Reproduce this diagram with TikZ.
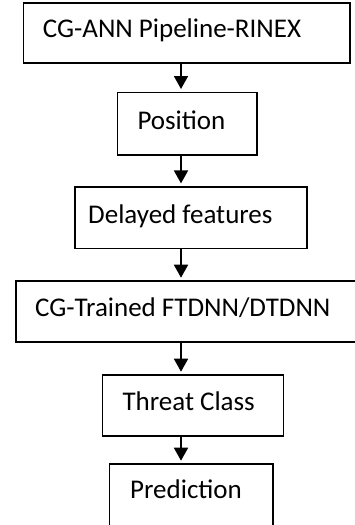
\documentclass[tikz,border=0pt]{standalone}
\usepackage{fontspec}
\setmainfont{Carlito}
\usetikzlibrary{arrows.meta}
\begin{document}
\begin{tikzpicture}[x=1pt,y=1pt,
  box/.style={draw=black, line width=1.6pt, rectangle, inner sep=0pt},
  txt/.style={inner sep=0pt, anchor=base west, font=\fontsize{27}{32}\selectfont},
  arr/.style={line width=1.8pt, -{Triangle[width=14pt,length=13pt]}, shorten >=2.5pt}]
\useasboundingbox (0,0) rectangle (355,-525);
\clip (0,0) rectangle (355,-525);
\coordinate (ax) at (181,0);
\node[box, minimum width=326.7pt, minimum height=60.3pt] (b1) at (186.65,-32.85) {};
\node[box, minimum width=139.4pt, minimum height=62.7pt] (b2) at (187,-123.65) {};
\node[box, minimum width=231.7pt, minimum height=61.6pt] (b3) at (190.85,-217.5) {};
\node[box, minimum width=340.3pt, minimum height=60.7pt] (b4) at (185.85,-311.35) {};
\node[box, minimum width=181pt, minimum height=60.7pt] (b5) at (192.8,-405.35) {};
\node[box, minimum width=163.4pt, minimum height=62pt] (b6) at (191,-495) {};
\node[txt] (t1) at (42.7,-37.7) {CG-ANN Pipeline-RINEX};
\node[txt] (t2) at (137.3,-129.3) {Position};
\node[txt] (t3) at (88,-223.3) {Delayed features};
\node[txt] (t4) at (35,-316.7) {CG-Trained FTDNN/DTDNN};
\node[txt] (t5) at (122.3,-410) {Threat Class};
\node[txt] (t6) at (130,-498.3) {Prediction};
\draw[arr] (b1.south -| ax) -- (b2.north -| ax);
\draw[arr] (b2.south -| ax) -- (b3.north -| ax);
\draw[arr] (b3.south -| ax) -- (b4.north -| ax);
\draw[arr] (b4.south -| ax) -- (b5.north -| ax);
\draw[arr] (b5.south -| ax) -- (b6.north -| ax);
\end{tikzpicture}
\end{document}
